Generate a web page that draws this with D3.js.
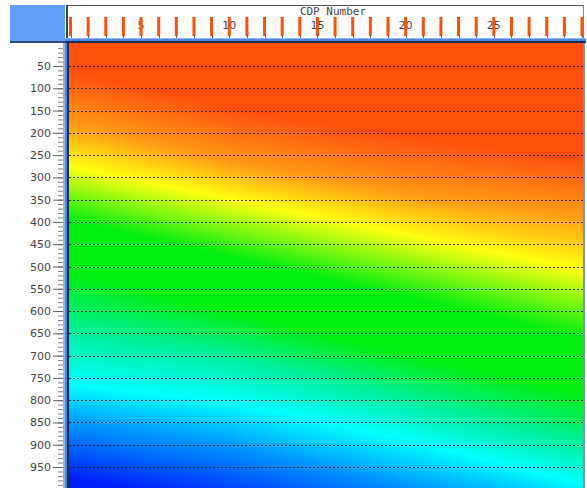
<!DOCTYPE html>
<html>
<head>
<meta charset="utf-8">
<script src="https://cdn.jsdelivr.net/npm/d3@7"></script>
<style>
  body { margin: 0; background: #fff; }
  svg { display: block; }
</style>
</head>
<body>
<div id="chart"></div>
<script>
// CDP positions along the top, labelled every 5
const cdpNumbers = d3.range(1, 31);
const cdpLabels = [5, 10, 15, 20, 25];
const depthTicks = d3.range(50, 1000, 50);
const minorTicks = d3.range(10, 1000, 10);

// velocity model: depth at which each colour level sits, per control CDP
const modelCdps = [1, 10, 20, 30];
const stopColors = ["#ff5010", "#ff9a14", "#ffff10", "#00ee10", "#00ee10", "#00f0a0", "#00ffff", "#0098ff", "#0020f8"];
const depthsCdp1 = [60, 178, 276, 396, 515, 650, 765, 850, 975];
const depthsCdp10 = [143, 266, 348, 478, 603, 705, 805, 900, 1040];
const depthsCdp20 = [208, 336, 428, 569, 697, 800, 890, 990, 1120];
const depthsCdp30 = [259, 385, 508, 660, 787, 900, 990, 1070, 1210];
const isoDepths = [depthsCdp1, depthsCdp10, depthsCdp20, depthsCdp30];

const width = 587, height = 488;
const plot = {left: 69, right: 583, top: 43, bottom: 488};

const x = d3.scaleLinear().domain([1, 30]).range([70.5, 582]);
const y = d3.scaleLinear().domain([0, 1000]).range([43.7, 489.3]);

const svg = d3.select("#chart").append("svg").attr("width", width).attr("height", height);

// raster of the model
const cw = plot.right - plot.left, ch = plot.bottom - plot.top;
const canvas = document.createElement("canvas");
canvas.width = cw; canvas.height = ch;
const ctx = canvas.getContext("2d");
const img = ctx.createImageData(cw, ch);
for (let i = 0; i < cw; i++) {
    const cdp = x.invert(plot.left + i + 0.5);
    const here = stopColors.map((c, k) =>
        d3.scaleLinear().domain(modelCdps).range(isoDepths.map(col => col[k]))(cdp));
    const colour = d3.scaleLinear().domain(here).range(stopColors).clamp(true);
    for (let j = 0; j < ch; j++) {
        const c = d3.rgb(colour(y.invert(plot.top + j + 0.5)));
        const p = (j * cw + i) * 4;
        img.data[p] = c.r; img.data[p + 1] = c.g; img.data[p + 2] = c.b; img.data[p + 3] = 255;
    }
}
ctx.putImageData(img, 0, 0);
svg.append("image")
    .attr("x", plot.left).attr("y", plot.top)
    .attr("width", cw).attr("height", ch)
    .attr("href", canvas.toDataURL());

// dashed depth lines
svg.append("g").selectAll("line").data(depthTicks).join("line")
    .attr("x1", plot.left).attr("x2", plot.right)
    .attr("y1", d => Math.round(y(d)) + 0.5).attr("y2", d => Math.round(y(d)) + 0.5)
    .attr("stroke", "#1a1a1a").attr("stroke-opacity", 0.85)
    .attr("stroke-dasharray", "2,2");

// right edge of plot
svg.append("rect").attr("x", plot.right).attr("y", 38).attr("width", 2).attr("height", height - 38).attr("fill", "#7a93c0");

// left axis
const minorAxis = svg.append("g").attr("transform", "translate(63,0)")
    .call(d3.axisLeft(y).tickValues(minorTicks).tickSize(5).tickFormat(""));
minorAxis.select(".domain").remove();
minorAxis.selectAll("line").attr("stroke", "#808080");

const yAxis = svg.append("g").attr("transform", "translate(63,0)")
    .call(d3.axisLeft(y).tickValues(depthTicks).tickSize(10).tickPadding(2));
yAxis.select(".domain").remove();
yAxis.selectAll("line").attr("stroke", "#606060");
yAxis.selectAll("text").attr("fill", "#444").style("font-family", "DejaVu Sans, Verdana, sans-serif").style("font-size", "11px");

// left blue strip
svg.append("rect").attr("x", 63).attr("y", 38).attr("width", 2).attr("height", height - 38).attr("fill", "#8db6f5");
svg.append("rect").attr("x", 65).attr("y", 38).attr("width", 2).attr("height", height - 38).attr("fill", "#4f86de");
svg.append("rect").attr("x", 67).attr("y", 38).attr("width", 2).attr("height", height - 38).attr("fill", "#1e2f55");

// top panel
svg.append("rect").attr("x", 66).attr("y", 5).attr("width", plot.right - 66 + 1).attr("height", 33).attr("fill", "#fff");
svg.append("line").attr("x1", 66).attr("x2", plot.right + 1).attr("y1", 5.5).attr("y2", 5.5).attr("stroke", "#555");
svg.append("line").attr("x1", plot.right + 0.5).attr("x2", plot.right + 0.5).attr("y1", 5).attr("y2", 38).attr("stroke", "#888");
svg.append("rect").attr("x", 66).attr("y", 5).attr("width", 2).attr("height", 33).attr("fill", "#3a3f4a");

svg.append("text").attr("x", 333).attr("y", 15)
    .attr("text-anchor", "middle").attr("fill", "#444")
    .style("font-family", "DejaVu Sans Mono, monospace").style("font-size", "11px")
    .text("CDP Number");

svg.append("g").selectAll("text").data(cdpLabels).join("text")
    .attr("x", d => x(d)).attr("y", 29)
    .attr("text-anchor", "middle").attr("fill", "#444")
    .style("font-family", "DejaVu Sans, Verdana, sans-serif").style("font-size", "11px")
    .text(d => d);

svg.append("g").selectAll("rect").data(cdpNumbers).join("rect")
    .attr("x", d => x(d) - 1.5).attr("y", 17)
    .attr("width", 3).attr("height", 19)
    .attr("fill", "#ff4e0c");
svg.append("g").selectAll("line").data(cdpNumbers).join("line")
    .attr("x1", d => Math.round(x(d)) + 0.5).attr("x2", d => Math.round(x(d)) + 0.5)
    .attr("y1", 35).attr("y2", 38)
    .attr("stroke", "#666");

// blue band under top panel
svg.append("rect").attr("x", 63).attr("y", 38).attr("width", plot.right - 63 + 3).attr("height", 1).attr("fill", "#8db6f5");
svg.append("rect").attr("x", 63).attr("y", 39).attr("width", plot.right - 63 + 3).attr("height", 2).attr("fill", "#4f86de");
svg.append("rect").attr("x", 66).attr("y", 41).attr("width", plot.right - 66 + 3).attr("height", 2).attr("fill", "#1e2f55");

// corner box
svg.append("rect").attr("x", 10).attr("y", 5).attr("width", 55).attr("height", 36).attr("fill", "#629ffb");
svg.append("rect").attr("x", 10).attr("y", 41).attr("width", 56).attr("height", 2).attr("fill", "#2f4a7a");
</script>
</body>
</html>
